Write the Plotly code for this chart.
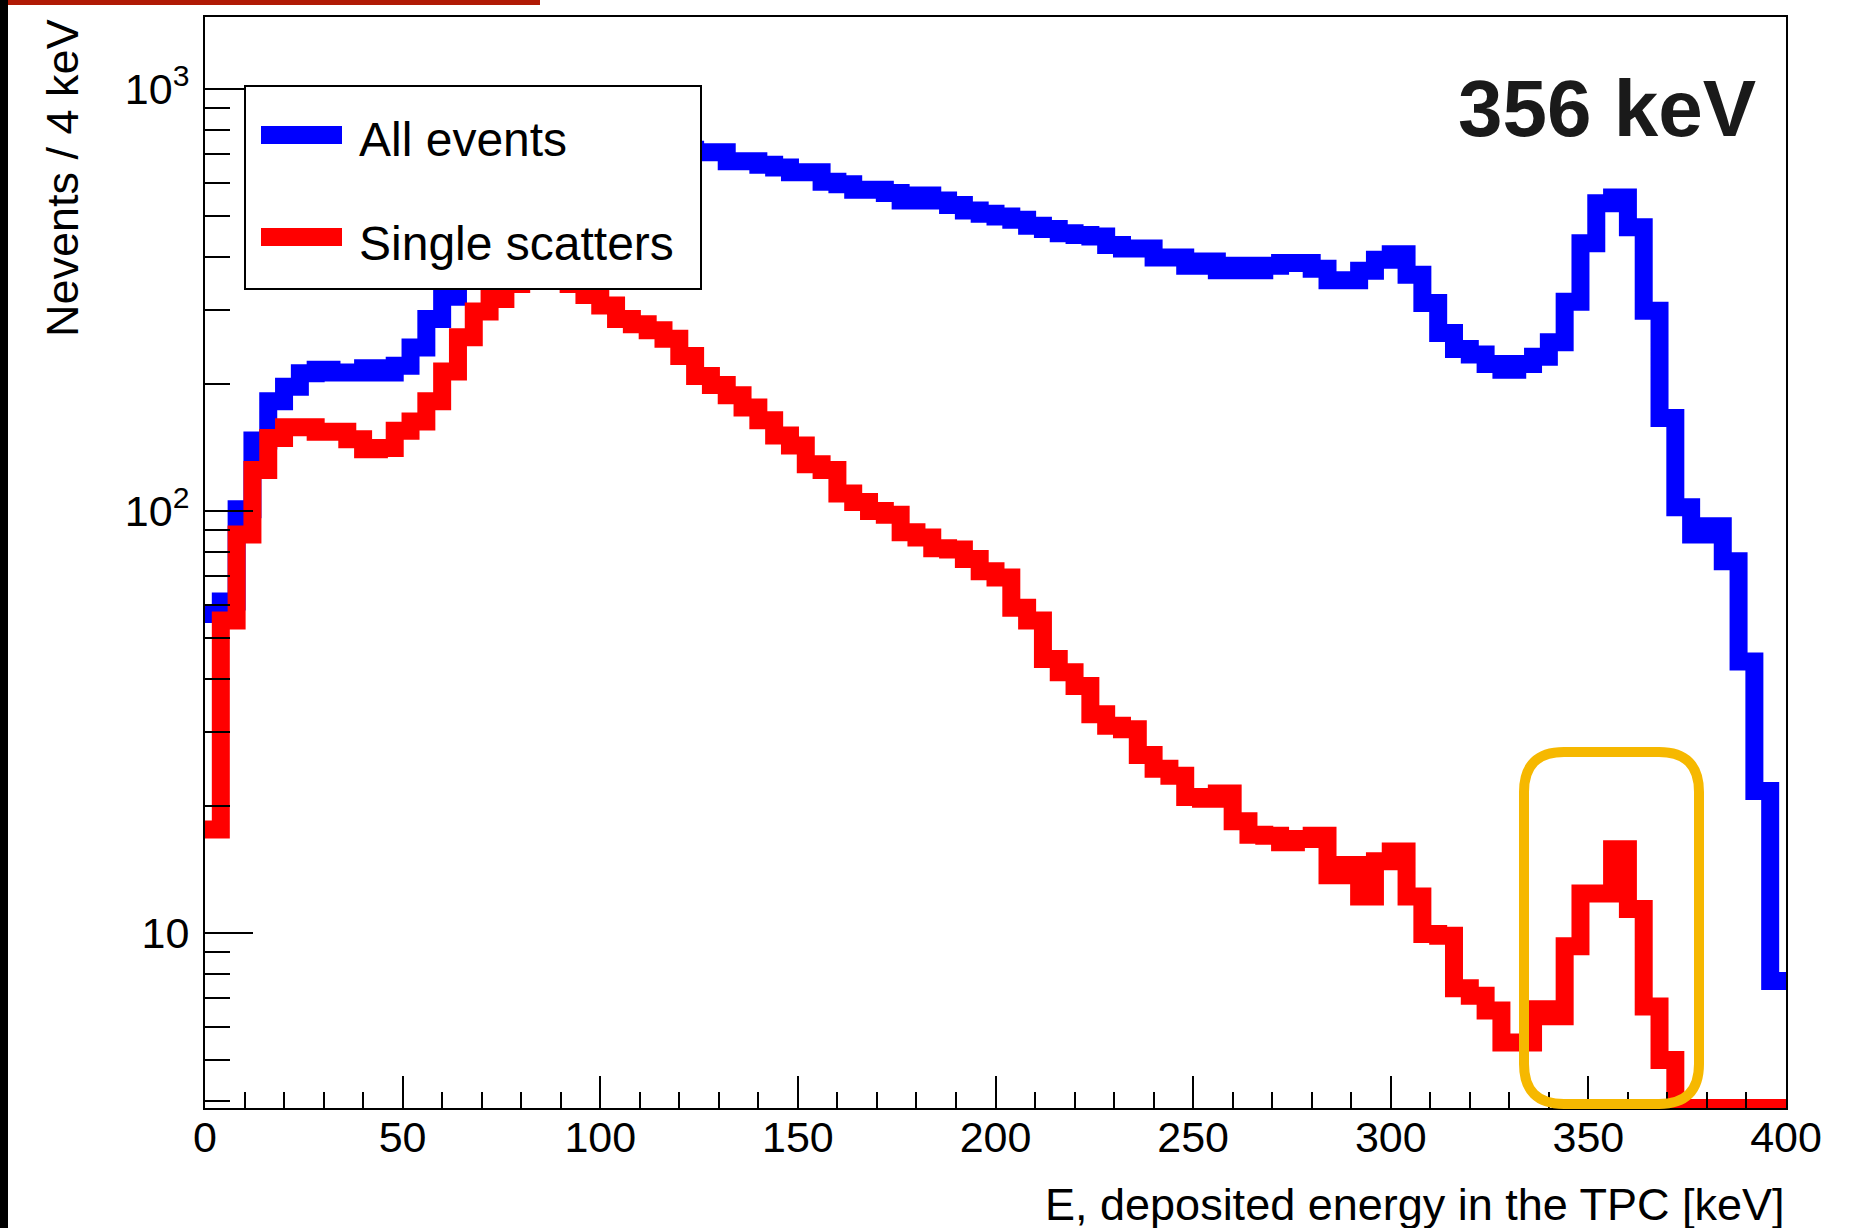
import plotly.graph_objects as go

# Energy histogram, 4 keV bins from 0 to 400 keV
bin_width = 4
bin_edges = [i * bin_width for i in range(101)]

all_events = [57, 61, 101, 147, 182, 197, 212, 216, 213, 213,
              218, 213, 221, 244, 285, 322, 352, 390, 430, 470,
              515, 555, 595, 630, 660, 690, 710, 725, 730, 728,
              718, 708, 708, 674, 674, 661, 652, 635, 635, 603,
              595, 577, 577, 567, 544, 559, 544, 531, 515, 506,
              499, 490, 474, 466, 455, 451, 447, 427, 419, 419,
              399, 399, 381, 390, 372, 381, 372, 381, 387, 387,
              375, 352, 352, 371, 394, 406, 363, 311, 264, 242,
              235, 223, 216, 223, 232, 251, 313, 431, 536, 553,
              470, 298, 166, 102, 88, 92, 76, 44, 21.7, 7.7]

single_scatters = [17.6, 55, 88, 125, 149, 158, 158, 154, 154, 148,
                   140, 141, 155, 163, 182, 214, 258, 297, 318, 345,
                   368, 385, 375, 345, 325, 307, 285, 277, 268, 256,
                   233, 209, 199, 188, 176, 164, 151, 143, 129, 125,
                   110, 105, 100, 98, 89, 86.5, 81.6, 81, 77, 72,
                   69.6, 59, 55, 44.6, 41.5, 38.5, 33, 31, 30.4, 26.4,
                   24.5, 23.6, 21, 20.8, 21.4, 18.4, 17.1, 17.0, 16.4, 16.7,
                   17.0, 13.7, 14.5, 12.2, 14.8, 15.6, 12.2, 9.95, 9.85, 7.4,
                   7.1, 6.55, 5.5, 5.5, 6.6, 6.35, 9.3, 12.4, 12.4, 15.8,
                   11.4, 6.7, 5.0, 0, 0, 0, 0, 0, 0, 0]

y_tick_vals = [10, 100, 1000]
y_tick_text = ["10", "10<sup>2</sup>", "10<sup>3</sup>"]
y_minor_vals = [4, 5, 6, 7, 8, 9,
                20, 30, 40, 50, 60, 70, 80, 90,
                200, 300, 400, 500, 600, 700, 800, 900]

series_names = ["All events", "Single scatters"]
series_colors = ["#0000ff", "#ff0000"]

# log-axis range (decades)
Y_LOG_MIN, Y_LOG_MAX = 0.5853, 3.1706
y_floor = 10 ** Y_LOG_MIN  # empty bins sit on the bottom of the frame

# plot frame in pixels
W, H = 1869, 1228
PL, PR, PT, PB = 205, 1786, 17, 1108


def px(x):
    return (x - PL) / (PR - PL)


def py(y):
    return (PB - y) / (PB - PT)


FONT = "Liberation Sans, Arial, Helvetica, sans-serif"
LINE_W = 18

fig = go.Figure()
for name, values, color in zip(series_names, [all_events, single_scatters], series_colors):
    yv = [max(v, y_floor) for v in values]
    fig.add_trace(go.Scatter(
        x=bin_edges,
        y=yv + [yv[-1]],
        mode="lines",
        line=dict(shape="hv", color=color, width=LINE_W),
        name=name,
        showlegend=False,
        hoverinfo="skip",
    ))

axis_common = dict(
    showline=True, linecolor="black", linewidth=2, mirror=True,
    showgrid=False, zeroline=False,
    ticks="inside", tickcolor="black", tickwidth=2,
    tickfont=dict(family=FONT, size=43, color="black"),
)

fig.update_xaxes(
    range=[0, 400], tick0=0, dtick=50, ticklen=32,
    minor=dict(ticks="inside", dtick=10, tick0=0, ticklen=16,
               tickcolor="black", tickwidth=2, showgrid=False),
    ticklabelstandoff=-10,
    **axis_common,
)
fig.update_yaxes(
    type="log", range=[Y_LOG_MIN, Y_LOG_MAX],
    tickmode="array", tickvals=y_tick_vals, ticktext=y_tick_text,
    ticklen=48,
    minor=dict(ticks="inside", tickmode="array", tickvals=y_minor_vals,
               ticklen=25, tickcolor="black", tickwidth=2, showgrid=False),
    ticklabelstandoff=5,
    **axis_common,
)

shapes = []
# slide edge decorations
shapes.append(dict(type="rect", xref="paper", yref="paper",
                   x0=px(0), x1=px(8), y0=py(0), y1=py(H),
                   fillcolor="black", line=dict(width=0), layer="above"))
shapes.append(dict(type="rect", xref="paper", yref="paper",
                   x0=px(8), x1=px(540), y0=py(0), y1=py(5),
                   fillcolor="#b01a05", line=dict(width=0), layer="above"))

# legend box and samples
shapes.append(dict(type="rect", xref="paper", yref="paper",
                   x0=px(245), x1=px(701), y0=py(289), y1=py(86),
                   fillcolor="white", line=dict(color="black", width=2), layer="above"))
for yc, color in zip([135, 237], series_colors):
    shapes.append(dict(type="line", xref="paper", yref="paper",
                       x0=px(261), x1=px(342), y0=py(yc), y1=py(yc),
                       line=dict(color=color, width=LINE_W), layer="above"))

# rounded highlight box around the single-scatter peak
x0, x1, y0, y1, r = 1524, 1699, 752, 1104, 40
path = (
    f"M {px(x0 + r)},{py(y0)} L {px(x1 - r)},{py(y0)} "
    f"Q {px(x1)},{py(y0)} {px(x1)},{py(y0 + r)} "
    f"L {px(x1)},{py(y1 - r)} Q {px(x1)},{py(y1)} {px(x1 - r)},{py(y1)} "
    f"L {px(x0 + r)},{py(y1)} Q {px(x0)},{py(y1)} {px(x0)},{py(y1 - r)} "
    f"L {px(x0)},{py(y0 + r)} Q {px(x0)},{py(y0)} {px(x0 + r)},{py(y0)} Z"
)
shapes.append(dict(type="path", xref="paper", yref="paper", path=path,
                   line=dict(color="#f6b800", width=10), layer="above"))

annotations = [
    dict(text="All events", x=px(357), y=py(140), xanchor="left", yanchor="middle",
         font=dict(family=FONT, size=48, color="black")),
    dict(text="Single scatters", x=px(357), y=py(243), xanchor="left", yanchor="middle",
         font=dict(family=FONT, size=48, color="black")),
    dict(text="<b>356 keV</b>", x=px(1758), y=py(109), xanchor="right", yanchor="middle",
         font=dict(family=FONT, size=80, color="#1a1a1a")),
    dict(text="E, deposited energy in the TPC [keV]", x=px(1787), y=py(1205),
         xanchor="right", yanchor="middle",
         font=dict(family=FONT, size=45, color="black")),
    dict(text="Nevents / 4 keV", x=px(62), y=py(17), xanchor="center", yanchor="top",
         textangle=-90, font=dict(family=FONT, size=45, color="black")),
]
for a in annotations:
    a.update(xref="paper", yref="paper", showarrow=False)

fig.update_layout(
    width=W, height=H,
    margin=dict(l=PL, r=W - PR, t=PT, b=H - PB, pad=0),
    paper_bgcolor="white", plot_bgcolor="white",
    shapes=shapes, annotations=annotations,
    showlegend=False,
)

fig.write_html("out.html")
